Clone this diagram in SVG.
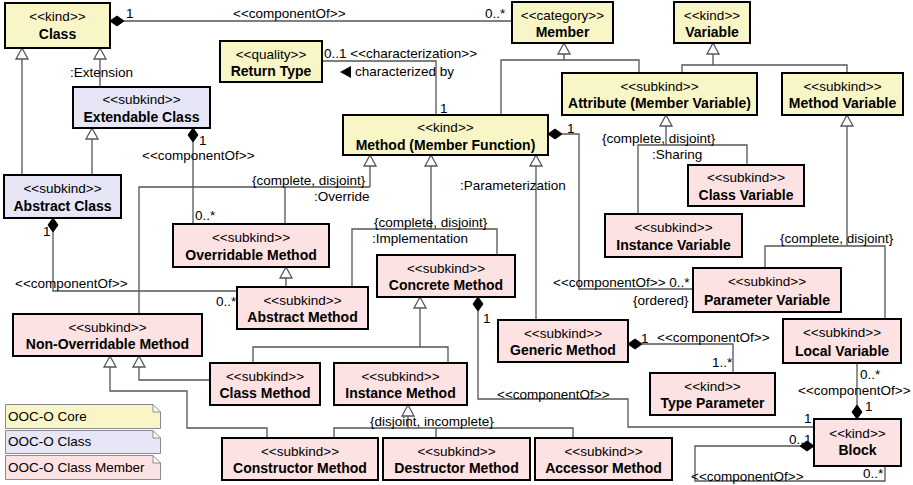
<svg xmlns="http://www.w3.org/2000/svg" width="913" height="485" viewBox="0 0 913 485">
<style>
  .box{stroke:#000;stroke-width:2}
  .core{fill:#F8F6C6}
  .cls{fill:#E6E6F6}
  .mem{fill:#FCE2E2}
  text{font-family:"Liberation Sans",Arial,sans-serif;fill:#000}
  .st{font-size:13.5px;text-anchor:middle}
  .nm{font-size:14px;font-weight:bold;text-anchor:middle}
  .lb{font-size:13.5px}
  .edge{fill:none;stroke:#555;stroke-width:1.3}
  .tri{fill:#fff;stroke:#555;stroke-width:1.3}
  .dia{fill:#000;stroke:#000;stroke-width:1}
  .note{stroke:#8a8a8a;stroke-width:1}
</style>
<defs>
  <!-- hollow generalization head, apex at origin pointing up -->
  <path id="gen" d="M0,0 L6,11 L-6,11 Z"/>
  <!-- composition diamond, tip at origin extending down -->
  <path id="comp" d="M0,0 L5,7 L0,14 L-5,7 Z"/>
</defs>

<g id="connectors">
  <!-- generalizations -->
  <path class="edge" d="M22,175 V59"/>
  <use href="#gen" class="tri" x="22" y="48"/>
  <path class="edge" d="M100,87 V59"/>
  <use href="#gen" class="tri" x="100" y="48"/>
  <path class="edge" d="M92,175 V139"/>
  <use href="#gen" class="tri" x="92" y="128"/>

  <path class="edge" d="M564,54 V60 M501,115 V60 H639 V73"/>
  <use href="#gen" class="tri" x="564" y="43"/>

  <path class="edge" d="M713,54 V65 M682,73 V65 H847 V73"/>
  <use href="#gen" class="tri" x="713" y="43"/>

  <path class="edge" d="M666,126 V145 M638,214 V145 H747 V165"/>
  <use href="#gen" class="tri" x="666" y="115"/>

  <path class="edge" d="M847,126 V246 M765,268 V246 H885 V319"/>
  <use href="#gen" class="tri" x="847" y="115"/>

  <path class="edge" d="M370,166 V187 M139,314 V187 H370 M285,187 V224"/>
  <use href="#gen" class="tri" x="370" y="155"/>

  <path class="edge" d="M431,166 V229 M352,287 V229 H497 V255"/>
  <use href="#gen" class="tri" x="431" y="155"/>

  <path class="edge" d="M536,166 V320"/>
  <use href="#gen" class="tri" x="536" y="155"/>

  <path class="edge" d="M286,278 V287"/>
  <use href="#gen" class="tri" x="286" y="267"/>

  <path class="edge" d="M420,308 V347 M253,363 V347 H448 V363"/>
  <use href="#gen" class="tri" x="420" y="297"/>

  <path class="edge" d="M139,367 V380 H210"/>
  <use href="#gen" class="tri" x="139" y="356"/>

  <path class="edge" d="M110,367 V391 H187 V428 H267 V438"/>
  <use href="#gen" class="tri" x="110" y="356"/>

  <path class="edge" d="M408,416 V428 M334,438 V428 H573 V438 M436,428 V438"/>
  <use href="#gen" class="tri" x="408" y="405"/>

  <!-- associations -->
  <path class="edge" d="M124,21 H512"/>
  <use href="#comp" class="dia" transform="translate(110,21) rotate(-90)"/>

  <path class="edge" d="M322,61 H436 V115"/>
  <polygon points="340,72 351,66 351,78" fill="#000"/>

  <path class="edge" d="M193,142 V224"/>
  <use href="#comp" class="dia" x="193" y="128"/>

  <path class="edge" d="M53,232 V291 H237"/>
  <use href="#comp" class="dia" x="53" y="218"/>

  <path class="edge" d="M562,134 H579 V289 H693"/>
  <use href="#comp" class="dia" transform="translate(548,134) rotate(-90)"/>

  <path class="edge" d="M478,311 V399 H628 V427 H814"/>
  <use href="#comp" class="dia" x="478" y="297"/>

  <path class="edge" d="M642,344 H733 V373"/>
  <use href="#comp" class="dia" transform="translate(628,344) rotate(-90)"/>

  <path class="edge" d="M857,363 V405"/>
  <use href="#comp" class="dia" transform="translate(857,419) rotate(180)"/>

  <path class="edge" d="M800,446 H695 V481 H885 V466"/>
  <use href="#comp" class="dia" transform="translate(814,446) rotate(90)"/>

  <!-- association labels -->
  <text class="lb" x="126" y="18">1</text>
  <text class="lb" x="233" y="18">&lt;&lt;componentOf&gt;&gt;</text>
  <text class="lb" x="485" y="18">0..*</text>
  <text class="lb" x="324" y="58">0..1 &lt;&lt;characterization&gt;&gt;</text>
  <text class="lb" x="355" y="76">characterized by</text>
  <text class="lb" x="440" y="113">1</text>
  <text class="lb" x="70" y="77">:Extension</text>
  <text class="lb" x="199" y="145">1</text>
  <text class="lb" x="142" y="160">&lt;&lt;componentOf&gt;&gt;</text>
  <text class="lb" x="195" y="220">0..*</text>
  <text class="lb" x="43" y="236">1</text>
  <text class="lb" x="15" y="288">&lt;&lt;componentOf&gt;&gt;</text>
  <text class="lb" x="216" y="306">0..*</text>
  <text class="lb" x="567" y="133">1</text>
  <text class="lb" x="553" y="287">&lt;&lt;componentOf&gt;&gt; 0..*</text>
  <text class="lb" x="633" y="305">{ordered}</text>
  <text class="lb" x="483" y="323">1</text>
  <text class="lb" x="497" y="399">&lt;&lt;componentOf&gt;&gt;</text>
  <text class="lb" x="804" y="423">1</text>
  <text class="lb" x="641" y="343">1</text>
  <text class="lb" x="657" y="342">&lt;&lt;componentOf&gt;&gt;</text>
  <text class="lb" x="712" y="367">1..*</text>
  <text class="lb" x="860" y="379">0..*</text>
  <text class="lb" x="798" y="395">&lt;&lt;componentOf&gt;&gt;</text>
  <text class="lb" x="865" y="411">1</text>
  <text class="lb" x="789" y="444">0..1</text>
  <text class="lb" x="691" y="481">&lt;&lt;componentOf&gt;&gt;</text>
  <text class="lb" x="863" y="478">0..*</text>

  <!-- generalization set labels -->
  <text class="lb" x="602" y="143">{complete, disjoint}</text>
  <text class="lb" x="652" y="159">:Sharing</text>
  <text class="lb" x="780" y="243">{complete, disjoint}</text>
  <text class="lb" x="252" y="185">{complete, disjoint}</text>
  <text class="lb" x="314" y="201">:Override</text>
  <text class="lb" x="374" y="227">{complete, disjoint}</text>
  <text class="lb" x="372" y="243">:Implementation</text>
  <text class="lb" x="460" y="190">:Parameterization</text>
  <text class="lb" x="370" y="426">{disjoint, incomplete}</text>
</g>

<!-- core classes -->
<g id="class">
  <rect class="box core" x="5" y="3" width="105" height="45"/>
  <text class="st" x="57.5" y="21">&lt;&lt;kind&gt;&gt;</text>
  <text class="nm" x="57.5" y="39">Class</text>
</g>
<g id="member">
  <rect class="box core" x="512" y="2" width="101" height="41"/>
  <text class="st" x="562.5" y="19.5">&lt;&lt;category&gt;&gt;</text>
  <text class="nm" x="562.5" y="37">Member</text>
</g>
<g id="variable">
  <rect class="box core" x="674" y="2" width="76" height="41"/>
  <text class="st" x="712" y="19.5">&lt;&lt;kind&gt;&gt;</text>
  <text class="nm" x="712" y="37">Variable</text>
</g>
<g id="return-type">
  <rect class="box core" x="220" y="41" width="102" height="41"/>
  <text class="st" x="271" y="58.5">&lt;&lt;quality&gt;&gt;</text>
  <text class="nm" x="271" y="76">Return Type</text>
</g>
<g id="attribute">
  <rect class="box core" x="562" y="73" width="195" height="42"/>
  <text class="st" x="659.5" y="90.5">&lt;&lt;subkind&gt;&gt;</text>
  <text class="nm" x="659.5" y="108">Attribute (Member Variable)</text>
</g>
<g id="method-variable">
  <rect class="box core" x="782" y="73" width="121" height="42"/>
  <text class="st" x="842.5" y="90.5">&lt;&lt;subkind&gt;&gt;</text>
  <text class="nm" x="842.5" y="108">Method Variable</text>
</g>
<g id="method">
  <rect class="box core" x="343" y="115" width="205" height="40"/>
  <text class="st" x="445.5" y="132">&lt;&lt;kind&gt;&gt;</text>
  <text class="nm" x="445.5" y="150">Method (Member Function)</text>
</g>

<!-- class module -->
<g id="extendable-class">
  <rect class="box cls" x="73" y="87" width="137" height="41"/>
  <text class="st" x="141.5" y="104">&lt;&lt;subkind&gt;&gt;</text>
  <text class="nm" x="141.5" y="122">Extendable Class</text>
</g>
<g id="abstract-class">
  <rect class="box cls" x="4" y="175" width="117" height="43"/>
  <text class="st" x="62.5" y="193">&lt;&lt;subkind&gt;&gt;</text>
  <text class="nm" x="62.5" y="211">Abstract Class</text>
</g>

<!-- class member module -->
<g id="overridable-method">
  <rect class="box mem" x="173" y="224" width="156" height="43"/>
  <text class="st" x="251" y="242">&lt;&lt;subkind&gt;&gt;</text>
  <text class="nm" x="251" y="260">Overridable Method</text>
</g>
<g id="concrete-method">
  <rect class="box mem" x="377" y="255" width="138" height="42"/>
  <text class="st" x="446" y="272.5">&lt;&lt;subkind&gt;&gt;</text>
  <text class="nm" x="446" y="290">Concrete Method</text>
</g>
<g id="abstract-method">
  <rect class="box mem" x="237" y="287" width="131" height="42"/>
  <text class="st" x="302.5" y="304.5">&lt;&lt;subkind&gt;&gt;</text>
  <text class="nm" x="302.5" y="322">Abstract Method</text>
</g>
<g id="class-variable">
  <rect class="box mem" x="688" y="165" width="116" height="41"/>
  <text class="st" x="746" y="182">&lt;&lt;subkind&gt;&gt;</text>
  <text class="nm" x="746" y="200">Class Variable</text>
</g>
<g id="instance-variable">
  <rect class="box mem" x="605" y="214" width="137" height="43"/>
  <text class="st" x="673.5" y="232">&lt;&lt;subkind&gt;&gt;</text>
  <text class="nm" x="673.5" y="250">Instance Variable</text>
</g>
<g id="parameter-variable">
  <rect class="box mem" x="693" y="268" width="148" height="44"/>
  <text class="st" x="767" y="286">&lt;&lt;subkind&gt;&gt;</text>
  <text class="nm" x="767" y="304.5">Parameter Variable</text>
</g>
<g id="non-overridable-method">
  <rect class="box mem" x="13" y="314" width="189" height="42"/>
  <text class="st" x="107.5" y="331.5">&lt;&lt;subkind&gt;&gt;</text>
  <text class="nm" x="107.5" y="349">Non-Overridable Method</text>
</g>
<g id="generic-method">
  <rect class="box mem" x="498" y="320" width="130" height="42"/>
  <text class="st" x="563" y="337.5">&lt;&lt;subkind&gt;&gt;</text>
  <text class="nm" x="563" y="355">Generic Method</text>
</g>
<g id="local-variable">
  <rect class="box mem" x="783" y="319" width="118" height="44"/>
  <text class="st" x="842" y="337">&lt;&lt;subkind&gt;&gt;</text>
  <text class="nm" x="842" y="355.5">Local Variable</text>
</g>
<g id="class-method">
  <rect class="box mem" x="210" y="363" width="110" height="42"/>
  <text class="st" x="265" y="380.5">&lt;&lt;subkind&gt;&gt;</text>
  <text class="nm" x="265" y="398">Class Method</text>
</g>
<g id="instance-method">
  <rect class="box mem" x="334" y="363" width="133" height="42"/>
  <text class="st" x="400.5" y="380.5">&lt;&lt;subkind&gt;&gt;</text>
  <text class="nm" x="400.5" y="398">Instance Method</text>
</g>
<g id="type-parameter">
  <rect class="box mem" x="650" y="373" width="125" height="42"/>
  <text class="st" x="712.5" y="390.5">&lt;&lt;kind&gt;&gt;</text>
  <text class="nm" x="712.5" y="408">Type Parameter</text>
</g>
<g id="constructor-method">
  <rect class="box mem" x="222" y="438" width="156" height="42"/>
  <text class="st" x="300" y="455.5">&lt;&lt;subkind&gt;&gt;</text>
  <text class="nm" x="300" y="473">Constructor Method</text>
</g>
<g id="destructor-method">
  <rect class="box mem" x="383" y="438" width="147" height="42"/>
  <text class="st" x="456.5" y="455.5">&lt;&lt;subkind&gt;&gt;</text>
  <text class="nm" x="456.5" y="473">Destructor Method</text>
</g>
<g id="accessor-method">
  <rect class="box mem" x="535" y="438" width="137" height="42"/>
  <text class="st" x="603.5" y="455.5">&lt;&lt;subkind&gt;&gt;</text>
  <text class="nm" x="603.5" y="473">Accessor Method</text>
</g>
<g id="block">
  <rect class="box mem" x="814" y="419" width="87" height="47"/>
  <text class="st" x="857.5" y="437.5">&lt;&lt;kind&gt;&gt;</text>
  <text class="nm" x="857.5" y="455">Block</text>
</g>

<!-- legend -->
<g id="legend">
  <path class="note core" d="M5.5,404.5 H153 L160.5,412 V428.5 H5.5 Z M153,404.5 V412 H160.5"/>
  <text class="lb" x="8" y="421">OOC-O Core</text>
  <path class="note cls" d="M5.5,430.5 H153 L160.5,438 V453.5 H5.5 Z M153,430.5 V438 H160.5"/>
  <text class="lb" x="8" y="446">OOC-O Class</text>
  <path class="note mem" d="M5.5,455.5 H153 L160.5,463 V479.5 H5.5 Z M153,455.5 V463 H160.5"/>
  <text class="lb" x="8" y="472">OOC-O Class Member</text>
</g>
</svg>
